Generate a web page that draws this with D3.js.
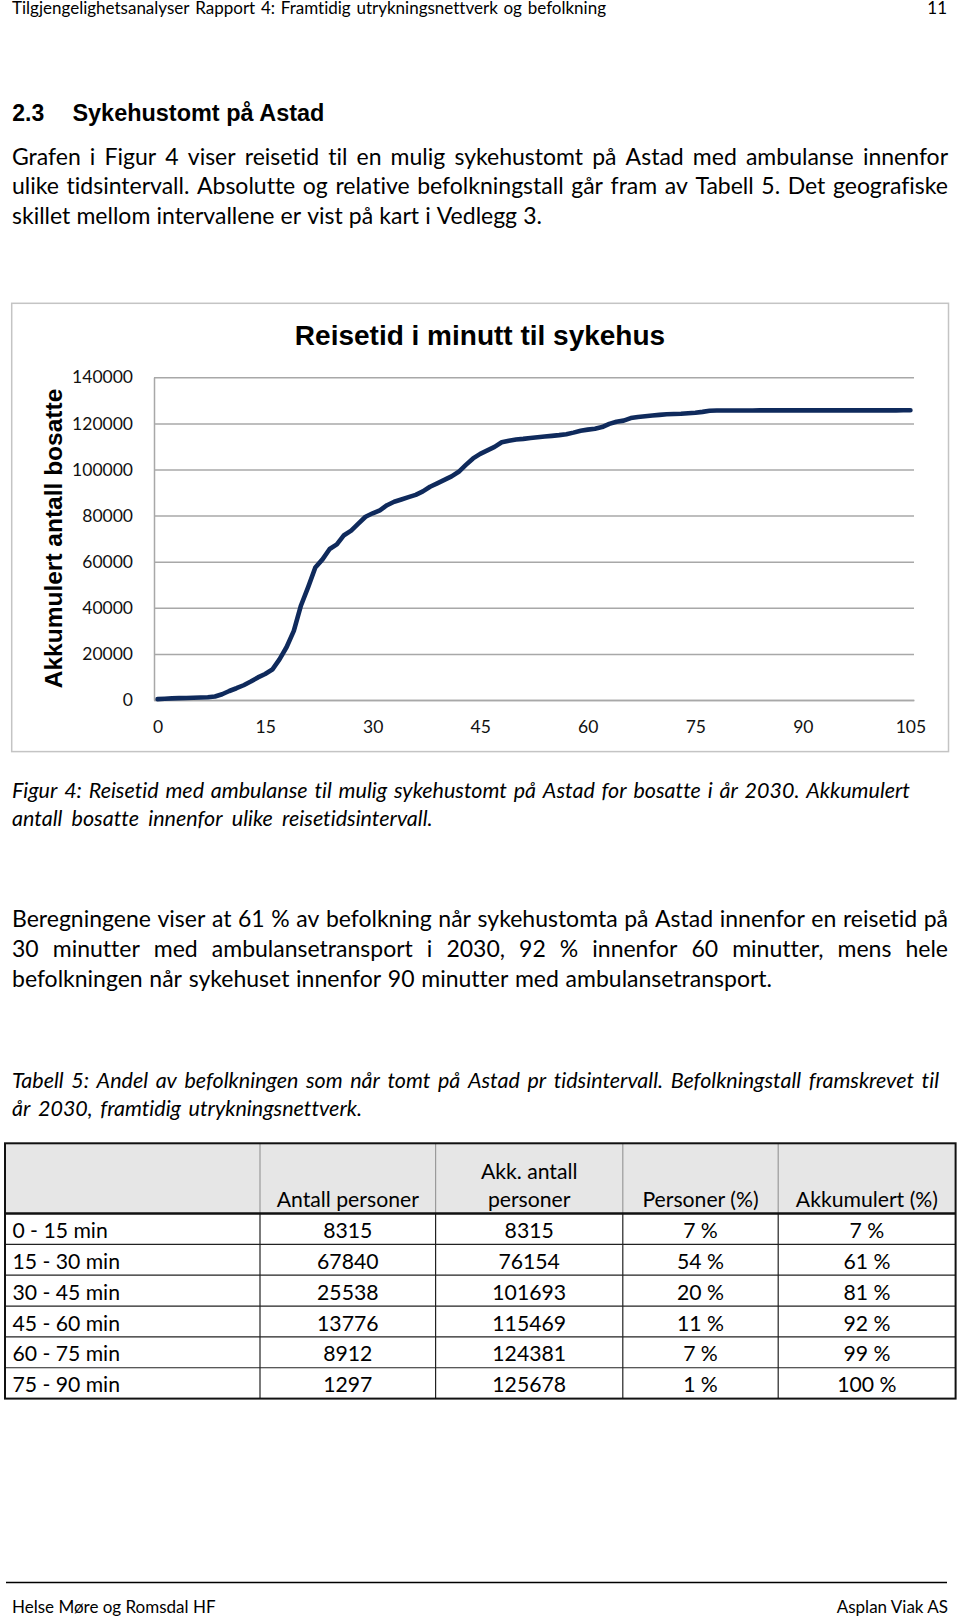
<!DOCTYPE html>
<html><head><meta charset="utf-8">
<script src="https://cdn.jsdelivr.net/npm/d3@7"></script>
<style>
body{margin:0;background:#fff}
svg{display:block}
text{font-variant-ligatures:none;font-feature-settings:"liga" 0,"clig" 0,"dlig" 0}
.body{font-family:Lato,"Open Sans",sans-serif;font-size:23px;fill:#000}
.ital{font-family:Lato,"Open Sans",sans-serif;font-size:21.5px;font-style:italic;fill:#000}
.tbl{font-family:Lato,"Open Sans",sans-serif;font-size:21.2px;fill:#000}
.small{font-family:Lato,"Open Sans",sans-serif;font-size:17px;fill:#000}
.tick text{font-family:Lato,"Open Sans",sans-serif;font-size:17.5px;fill:#111}
</style>
</head><body>
<svg id="page" width="960" height="1619"></svg>
<script>
// ---------- data ----------
const minutes = d3.range(0, 106);
const cumulative = [
  400, 550, 700, 800, 900, 1000, 1100, 1200, 1500, 2500,
  3900, 5100, 6400, 8000, 9800, 11300, 13200, 17600, 23000, 30000,
  41000, 49000, 57500, 61000, 65500, 67500, 71500, 73500, 76500, 79500,
  81000, 82300, 84500, 86000, 87000, 88000, 89000, 90500, 92500, 94000,
  95500, 97000, 99000, 102000, 104800, 106800, 108300, 109800, 111800, 112500,
  113000, 113300, 113700, 114000, 114300, 114600, 114900, 115300, 116000, 116800,
  117300, 117700, 118400, 119800, 120700, 121200, 122300, 122800, 123100, 123400,
  123700, 124000, 124100, 124200, 124400, 124600, 125000, 125500, 125600, 125600,
  125600, 125600, 125600, 125600, 125650, 125650, 125650, 125650, 125650, 125650,
  125650, 125650, 125650, 125650, 125650, 125650, 125650, 125650, 125650, 125650,
  125650, 125650, 125650, 125650, 125678, 125678
];
const xTickValues = [0, 15, 30, 45, 60, 75, 90, 105];
const yTickValues = [0, 20000, 40000, 60000, 80000, 100000, 120000, 140000];
const chartTitle = "Reisetid i minutt til sykehus";
const yAxisTitle = "Akkumulert antall bosatte";

const intervals = ["0 - 15 min","15 - 30 min","30 - 45 min","45 - 60 min","60 - 75 min","75 - 90 min"];
const antallPersoner = [8315, 67840, 25538, 13776, 8912, 1297];
const akkAntall = [8315, 76154, 101693, 115469, 124381, 125678];
const personerPct = ["7 %","54 %","20 %","11 %","7 %","1 %"];
const akkumulertPct = ["7 %","61 %","81 %","92 %","99 %","100 %"];

// ---------- helpers ----------
const svg = d3.select("#page");
svg.append("rect").attr("width",960).attr("height",1619).attr("fill","#fff");

function measure(word, cls) {
  const tmp = svg.append("text").attr("class", cls).attr("x", -1000).attr("y", -1000).text(word);
  const w = tmp.node().getComputedTextLength();
  tmp.remove();
  return w;
}

function lineFit(g, str, x0, x1, y, cls) {
  const words = str.split(" ");
  const widths = words.map(w => measure(w, cls));
  const total = d3.sum(widths);
  const gap = words.length > 1 ? (x1 - x0 - total) / (words.length - 1) : 0;
  const t = g.append("text").attr("class", cls).attr("y", y);
  if (words.length > 1 && gap < 2.5) {
    t.attr("x", x0).text(str).attr("textLength", x1 - x0).attr("lengthAdjust", "spacingAndGlyphs");
    return t;
  }
  let x = x0;
  words.forEach((w, i) => {
    t.append("tspan").attr("x", x).text(i < words.length - 1 ? w + " " : w);
    x += widths[i] + gap;
  });
  return t;
}

// ---------- page header ----------
lineFit(svg, "Tilgjengelighetsanalyser Rapport 4: Framtidig utrykningsnettverk og befolkning", 12, 606, 13.5, "small");
svg.append("text").attr("class","small").attr("x",947).attr("y",13.5).attr("text-anchor","end").text("11");

svg.append("text").attr("x",12.3).attr("y",120.7)
  .style("font-family","'Liberation Sans',Arial,sans-serif").style("font-weight","bold").style("font-size","23px")
  .text("2.3");
svg.append("text").attr("x",72.4).attr("y",120.7)
  .style("font-family","'Liberation Sans',Arial,sans-serif").style("font-weight","bold").style("font-size","23px")
  .attr("textLength",252).attr("lengthAdjust","spacingAndGlyphs")
  .text("Sykehustomt på Astad");

lineFit(svg, "Grafen i Figur 4 viser reisetid til en mulig sykehustomt på Astad med ambulanse innenfor", 12, 948, 164.5, "body");
lineFit(svg, "ulike tidsintervall. Absolutte og relative befolkningstall går fram av Tabell 5. Det geografiske", 12, 948, 194.2, "body");
lineFit(svg, "skillet mellom intervallene er vist på kart i Vedlegg 3.", 12, 542, 224, "body");

// ---------- chart ----------
const chart = svg.append("g");
chart.append("rect").attr("x",11.7).attr("y",303.3).attr("width",936.8).attr("height",448.3)
  .attr("fill","#fff").attr("stroke","#c4c4c4").attr("stroke-width",1.5);

chart.append("text").attr("x",480).attr("y",345).attr("text-anchor","middle")
  .style("font-family","'Liberation Sans',Arial,sans-serif").style("font-weight","bold").style("font-size","28px")
  .attr("fill","#000").text(chartTitle);

chart.append("text").attr("transform","translate(61.5,538.5) rotate(-90)").attr("text-anchor","middle")
  .style("font-family","'Liberation Sans',Arial,sans-serif").style("font-weight","bold").style("font-size","24.5px")
  .attr("fill","#000").text(yAxisTitle);

const x = d3.scalePoint().domain(minutes).range([154, 914]).padding(0.5);
const y = d3.scaleLinear().domain([0, 140000]).range([700, 377.3]);

const yAxis = chart.append("g").attr("transform","translate(154,0)")
  .call(d3.axisLeft(y).tickValues(yTickValues).tickFormat(d3.format("d"))
    .tickSize(-760).tickSizeOuter(0).tickPadding(21));
yAxis.selectAll(".tick line").attr("stroke","#a8a8a8").attr("stroke-width",1.5);
yAxis.select(".domain").attr("stroke","#a8a8a8").attr("stroke-width",1.5);

const xAxis = chart.append("g").attr("transform","translate(0,700)")
  .call(d3.axisBottom(x).tickValues(xTickValues).tickSize(0).tickSizeOuter(0).tickPadding(21));
xAxis.select(".domain").attr("stroke","#a8a8a8").attr("stroke-width",1.5);

const series = minutes.map((m, i) => ({m, v: cumulative[i]}));
chart.append("path").datum(series)
  .attr("fill","none").attr("stroke","#0f2a5c").attr("stroke-width",4.6)
  .attr("stroke-linejoin","round").attr("stroke-linecap","round")
  .attr("d", d3.line().x(d => x(d.m)).y(d => y(d.v)));

// ---------- captions / paragraphs ----------
lineFit(svg, "Figur 4: Reisetid med ambulanse til mulig sykehustomt på Astad for bosatte i år 2030. Akkumulert", 12, 910, 797.5, "ital");
lineFit(svg, "antall bosatte innenfor ulike reisetidsintervall.", 12, 432.5, 825.5, "ital");

lineFit(svg, "Beregningene viser at 61 % av befolkning når sykehustomta på Astad innenfor en reisetid på", 12, 948, 927, "body");
lineFit(svg, "30 minutter med ambulansetransport i 2030, 92 % innenfor 60 minutter, mens hele", 12, 948, 957, "body");
lineFit(svg, "befolkningen når sykehuset innenfor 90 minutter med ambulansetransport.", 12, 772, 987, "body");

lineFit(svg, "Tabell 5: Andel av befolkningen som når tomt på Astad pr tidsintervall. Befolkningstall framskrevet til", 12, 939, 1088, "ital");
lineFit(svg, "år 2030, framtidig utrykningsnettverk.", 12, 362, 1116, "ital");

// ---------- table ----------
const tbl = svg.append("g");
const colX = [5, 260, 435.6, 622.8, 778.2, 955.6];
const tblTop = 1143.3, headBottom = 1213.5, rowH = 30.85;
const rowY = d3.range(intervals.length + 1).map(i => headBottom + i * rowH);
const tblBottom = rowY[rowY.length - 1];

tbl.append("rect").attr("x",colX[0]).attr("y",tblTop).attr("width",colX[5]-colX[0]).attr("height",headBottom-tblTop)
  .attr("fill","#e6e6e6");
colX.slice(1,5).forEach(cx => {
  tbl.append("line").attr("x1",cx).attr("x2",cx).attr("y1",tblTop).attr("y2",headBottom)
    .attr("stroke","#9a9a9a").attr("stroke-width",1.2);
  tbl.append("line").attr("x1",cx).attr("x2",cx).attr("y1",headBottom).attr("y2",tblBottom)
    .attr("stroke","#222").attr("stroke-width",1.2);
});
rowY.slice(1, rowY.length - 1).forEach(ry => {
  tbl.append("line").attr("x1",colX[0]).attr("x2",colX[5]).attr("y1",ry).attr("y2",ry)
    .attr("stroke","#222").attr("stroke-width",1.2);
});
tbl.append("line").attr("x1",colX[0]).attr("x2",colX[5]).attr("y1",headBottom).attr("y2",headBottom)
  .attr("stroke","#111").attr("stroke-width",2.4);
tbl.append("rect").attr("x",colX[0]).attr("y",tblTop).attr("width",colX[5]-colX[0]).attr("height",tblBottom-tblTop)
  .attr("fill","none").attr("stroke","#111").attr("stroke-width",2);

const cc = i => (colX[i] + colX[i+1]) / 2;
const hdr = (t, c, yy) => tbl.append("text").attr("class","tbl").attr("x",cc(c)).attr("y",yy)
  .attr("text-anchor","middle").text(t);
hdr("Antall personer", 1, 1206.5);
hdr("Akk. antall", 2, 1178.5);
hdr("personer", 2, 1206.5);
hdr("Personer (%)", 3, 1206.5);
hdr("Akkumulert (%)", 4, 1206.5);

intervals.forEach((lab, i) => {
  const by = headBottom + 24.5 + i * rowH;
  tbl.append("text").attr("class","tbl").attr("x",12.4).attr("y",by).text(lab);
  [antallPersoner[i], akkAntall[i], personerPct[i], akkumulertPct[i]].forEach((v, j) => {
    tbl.append("text").attr("class","tbl").attr("x",cc(j+1)).attr("y",by)
      .attr("text-anchor","middle").text(v);
  });
});

// ---------- footer ----------
svg.append("line").attr("x1",6).attr("x2",947).attr("y1",1582.5).attr("y2",1582.5)
  .attr("stroke","#000").attr("stroke-width",1.6);
svg.append("text").attr("class","small").attr("x",12).attr("y",1613).text("Helse Møre og Romsdal HF");
svg.append("text").attr("class","small").attr("x",948).attr("y",1613).attr("text-anchor","end").text("Asplan Viak AS");
</script>
</body></html>
